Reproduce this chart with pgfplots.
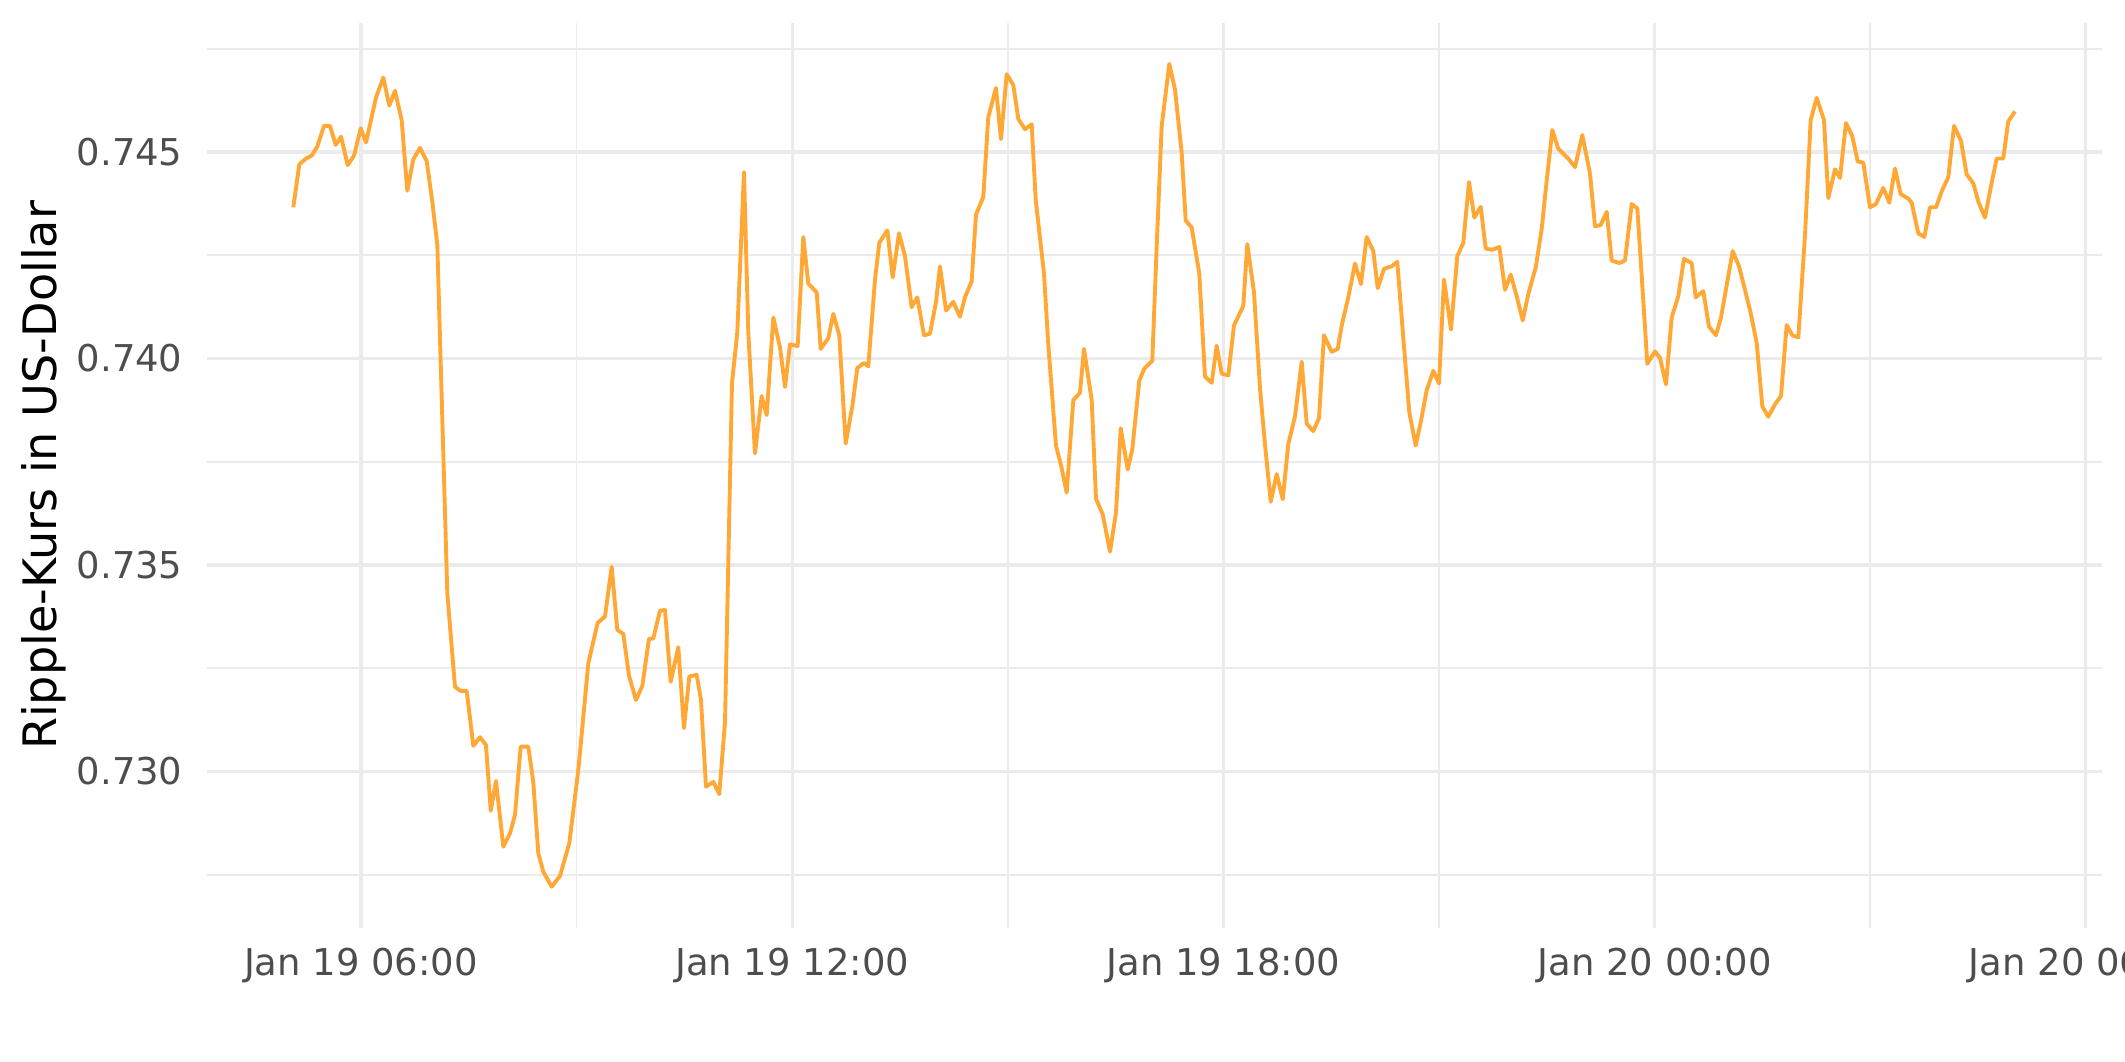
\documentclass[border=0pt]{standalone}
\usepackage{pgfplots}
\pgfplotsset{compat=1.18}
\usepackage{pgfplotstable}
\usepackage{fontspec}
\setmainfont{DejaVu Sans}

\definecolor{gridgray}{RGB}{235,235,235}
\definecolor{ticktext}{RGB}{77,77,77}
\definecolor{xrpline}{RGB}{255,168,54}

% hours since Jan 19 00:00, price in USD
\pgfplotstableread{
t       v
5.058   0.74366
5.142   0.74470
5.235   0.74484
5.314   0.74491
5.392   0.74513
5.485   0.74563
5.569   0.74563
5.648   0.74517
5.722   0.74537
5.815   0.74468
5.903   0.74491
5.996   0.74557
6.070   0.74523
6.209   0.74632
6.310   0.74680
6.394   0.74612
6.473   0.74648
6.566   0.74577
6.644   0.74406
6.728   0.74482
6.821   0.74510
6.914   0.74478
6.992   0.74380
7.062   0.74275
7.201   0.73431
7.308   0.73205
7.387   0.73195
7.471   0.73195
7.563   0.73062
7.656   0.73083
7.739   0.73064
7.805   0.72905
7.878   0.72977
7.980   0.72818
8.073   0.72850
8.143   0.72895
8.222   0.73060
8.328   0.73060
8.397   0.72975
8.467   0.72802
8.537   0.72757
8.653   0.72721
8.769   0.72747
8.898   0.72826
9.024   0.73004
9.163   0.73262
9.293   0.73360
9.395   0.73375
9.488   0.73496
9.566   0.73343
9.650   0.73333
9.729   0.73232
9.826   0.73173
9.914   0.73207
10.007  0.73321
10.067  0.73322
10.160  0.73389
10.230  0.73391
10.309  0.73217
10.415  0.73301
10.494  0.73105
10.568  0.73230
10.671  0.73234
10.731  0.73173
10.800  0.72963
10.902  0.72975
10.985  0.72945
11.065  0.73120
11.162  0.73941
11.236  0.74063
11.329  0.74451
11.389  0.74063
11.482  0.73770
11.575  0.73909
11.645  0.73863
11.737  0.74099
11.830  0.74027
11.900  0.73931
11.969  0.74034
12.076  0.74030
12.154  0.74294
12.224  0.74181
12.341  0.74160
12.396  0.74023
12.502  0.74049
12.572  0.74108
12.655  0.74056
12.744  0.73794
12.836  0.73884
12.906  0.73977
12.999  0.73989
13.059  0.73981
13.152  0.74191
13.212  0.74280
13.323  0.74310
13.398  0.74196
13.486  0.74303
13.569  0.74248
13.662  0.74124
13.740  0.74148
13.834  0.74056
13.917  0.74060
14.001  0.74137
14.056  0.74223
14.140  0.74116
14.241  0.74137
14.334  0.74101
14.404  0.74148
14.497  0.74187
14.557  0.74348
14.659  0.74391
14.728  0.74584
14.835  0.74655
14.905  0.74531
14.984  0.74688
15.076  0.74662
15.146  0.74580
15.239  0.74555
15.332  0.74567
15.388  0.74384
15.503  0.74206
15.563  0.74034
15.670  0.73789
15.750  0.73734
15.819  0.73675
15.911  0.73899
16.004  0.73917
16.060  0.74023
16.167  0.73899
16.227  0.73660
16.320  0.73623
16.422  0.73532
16.505  0.73627
16.571  0.73831
16.668  0.73731
16.732  0.73780
16.829  0.73946
16.895  0.73974
16.946  0.73984
17.010  0.73994
17.071  0.74270
17.141  0.74563
17.247  0.74713
17.326  0.74651
17.419  0.74498
17.475  0.74334
17.558  0.74317
17.664  0.74206
17.743  0.73956
17.837  0.73941
17.906  0.74031
17.976  0.73963
18.068  0.73959
18.147  0.74080
18.276  0.74127
18.332  0.74277
18.425  0.74160
18.509  0.73927
18.578  0.73792
18.658  0.73653
18.741  0.73720
18.825  0.73659
18.902  0.73792
18.996  0.73860
19.089  0.73992
19.159  0.73842
19.250  0.73824
19.330  0.73856
19.399  0.74056
19.506  0.74016
19.590  0.74023
19.646  0.74080
19.737  0.74148
19.831  0.74230
19.914  0.74180
19.993  0.74294
20.085  0.74260
20.147  0.74170
20.234  0.74217
20.341  0.74223
20.419  0.74234
20.503  0.74049
20.586  0.73870
20.675  0.73789
20.749  0.73849
20.828  0.73923
20.920  0.73970
20.999  0.73939
21.069  0.74191
21.166  0.74070
21.254  0.74248
21.337  0.74280
21.417  0.74427
21.491  0.74341
21.580  0.74367
21.649  0.74266
21.741  0.74263
21.839  0.74270
21.918  0.74166
21.997  0.74203
22.080  0.74151
22.164  0.74092
22.242  0.74156
22.345  0.74220
22.428  0.74313
22.498  0.74431
22.576  0.74553
22.659  0.74508
22.798  0.74484
22.892  0.74463
22.993  0.74541
23.100  0.74448
23.170  0.74320
23.249  0.74323
23.333  0.74355
23.402  0.74237
23.508  0.74231
23.587  0.74237
23.681  0.74374
23.759  0.74363
23.820  0.74199
23.898  0.73987
24.005  0.74017
24.075  0.74001
24.158  0.73937
24.237  0.74099
24.329  0.74151
24.408  0.74241
24.515  0.74231
24.571  0.74148
24.677  0.74163
24.756  0.74077
24.853  0.74056
24.923  0.74099
25.002  0.74177
25.086  0.74260
25.174  0.74223
25.257  0.74166
25.336  0.74110
25.420  0.74037
25.498  0.73884
25.581  0.73859
25.675  0.73889
25.758  0.73909
25.837  0.74081
25.915  0.74056
25.999  0.74051
26.092  0.74299
26.171  0.74577
26.255  0.74631
26.356  0.74577
26.416  0.74388
26.509  0.74458
26.579  0.74437
26.662  0.74570
26.750  0.74538
26.825  0.74477
26.903  0.74474
26.996  0.74366
27.080  0.74374
27.181  0.74413
27.265  0.74377
27.344  0.74460
27.423  0.74398
27.529  0.74387
27.576  0.74377
27.668  0.74303
27.752  0.74294
27.831  0.74366
27.915  0.74366
28.002  0.74408
28.086  0.74439
28.165  0.74563
28.262  0.74527
28.341  0.74446
28.433  0.74424
28.503  0.74380
28.596  0.74341
28.675  0.74413
28.758  0.74484
28.850  0.74484
28.920  0.74574
29.014  0.74598
}\xrp

\begin{document}
\begin{tikzpicture}
% page = 2125 x 1062 px at 0.36pt per px
\path[use as bounding box] (-74.41pt,-48.35pt) rectangle (690.6pt,333.97pt);
\begin{axis}[
    scale only axis,
    width=682.2pt,
    height=325.6pt,
    xmin=3.853, xmax=30.22,
    ymin=0.726218, ymax=0.748116,
    axis line style={draw=none},
    tick style={draw=none},
    major tick length=0pt,
    minor tick length=0pt,
    xtick={6,12,18,24,30},
    xticklabels={Jan 19 06:00,Jan 19 12:00,Jan 19 18:00,Jan 20 00:00,Jan 20 06:00},
    minor xtick={9,15,21,27},
    ytick={0.730,0.735,0.740,0.745},
    yticklabels={0.730,0.735,0.740,0.745},
    minor ytick={0.7275,0.7325,0.7375,0.7425,0.7475},
    grid=both,
    major grid style={color=gridgray, line width=1.15pt},
    minor grid style={color=gridgray, line width=0.6pt},
    ticklabel style={font=\fontsize{13.3}{15}\selectfont, text=ticktext, inner sep=0pt},
    xticklabel style={anchor=north, yshift=-7.3pt},
    yticklabel style={anchor=east, xshift=-8.5pt},
    ylabel={Ripple-Kurs in US-Dollar},
    every axis y label/.style={at={(rel axis cs:-0.0737,0.5)}, rotate=90, anchor=south, inner sep=0pt,
        font=\fontsize{16.6}{20}\selectfont, text=black},
]
\addplot[color=xrpline, line width=1.4pt, line join=round, no marks] table[x=t, y=v] {\xrp};
\end{axis}
\end{tikzpicture}
\end{document}
